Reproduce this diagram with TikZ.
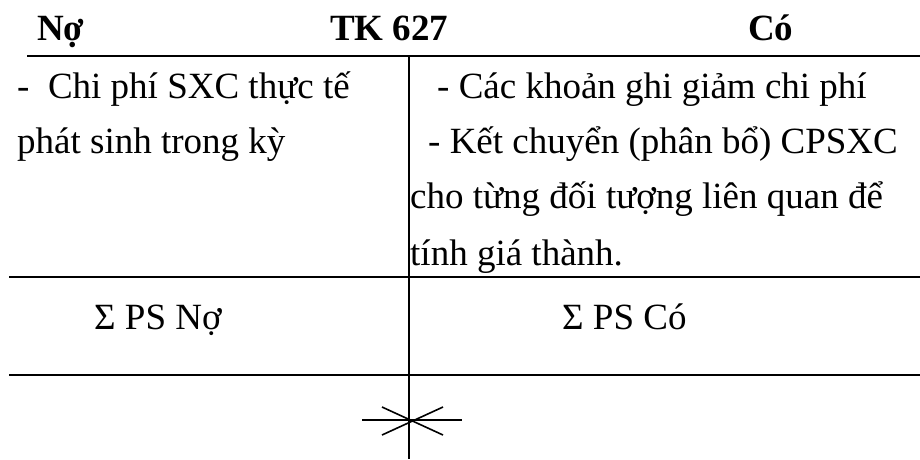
\documentclass[tikz,border=0pt]{standalone}
\usepackage{fontspec}
\setmainfont{Liberation Serif}
\begin{document}
\begin{tikzpicture}[x=1pt,y=-1pt,
  rule/.style={line width=2pt},
  thin rule/.style={line width=1.6pt},
  txt/.style={anchor=base west,inner sep=0pt,font=\fontsize{37}{44}\selectfont},
  hdr/.style={anchor=base west,inner sep=0pt,font=\fontsize{37}{44}\selectfont\bfseries}]
\useasboundingbox (0,0) rectangle (920,459);
% header
\node[hdr] (no) at (37,40) {Nợ};
\node[hdr] (tk) at (330,40) {TK 627};
\node[hdr] (co) at (748,40) {Có};
% lines
\coordinate (t1) at (27,56); \coordinate (t2) at (920,56);
\coordinate (m1) at (9,277); \coordinate (m2) at (920,277);
\coordinate (b1) at (9,375); \coordinate (b2) at (920,375);
\coordinate (v1) at (409,56); \coordinate (v2) at (409,459);
\draw[rule] (t1) -- (t2);
\draw[rule] (m1) -- (m2);
\draw[rule] (b1) -- (b2);
\draw[thin rule] (v1) -- (v2);
% left column
\node[txt] (l1) at (17,98) {-\ \ Chi phí SXC thực tế};
\node[txt] (l2) at (17,153) {phát sinh trong kỳ};
% right column
\node[txt] (r1) at (437,98) {- Các khoản ghi giảm chi phí};
\node[txt] (r2) at (428,153) {- Kết chuyển (phân bổ) CPSXC};
\node[txt] (r3) at (410,208) {cho từng đối tượng liên quan để};
\node[txt] (r4) at (410,265) {tính giá thành.};
% totals
\node[txt] (sn) at (94,329) {Σ PS Nợ};
\node[txt] (sc) at (562,329) {Σ PS Có};
% star
\coordinate (s0) at (411,420);
\coordinate (h1) at (362,420); \coordinate (h2) at (462,420);
\coordinate (d1) at (382,407); \coordinate (d2) at (443,435);
\coordinate (e1) at (382,435); \coordinate (e2) at (443,407);
\draw[thin rule] (h1) -- (h2);
\draw[thin rule] (d1) -- (d2);
\draw[thin rule] (e1) -- (e2);
\end{tikzpicture}
\end{document}
